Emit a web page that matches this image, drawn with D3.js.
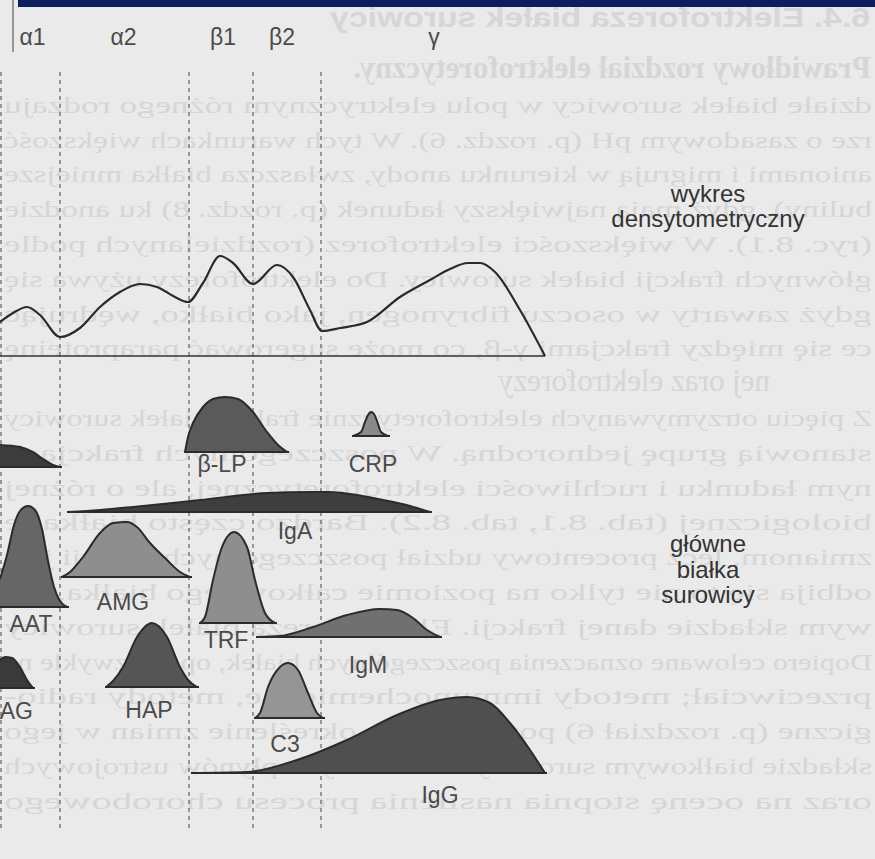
<!DOCTYPE html>
<html><head><meta charset="utf-8">
<script src="https://cdn.jsdelivr.net/npm/d3@7"></script>
<style>html,body{margin:0;padding:0;background:#ececec;overflow:hidden}</style>
</head><body><svg id="c" width="875" height="859"></svg>
<script>
// ---------- DATA ----------
const fractions = ["α1", "α2", "β1", "β2", "γ"];
const fractionLabelMobility = [6.5, 24.7, 44.6, 56.4, 86.8];
const fractionBounds = [0.2, 12, 37.8, 50.6, 64.2];

// densitometric curve: mobility vs intensity
const densMobility  = [0, 2.6, 5.4, 8, 12, 16, 20, 24, 28, 31.4, 35, 37.6, 40.6, 44, 46.6, 50.6, 55.4, 58.6, 62, 64.4, 68, 73.4, 80, 86, 90, 93.6, 96, 99, 104, 109];
const densIntensity = [34, 43, 49, 41, 19, 28, 49, 64, 72, 69, 59, 54, 73, 100, 93, 72, 91, 79, 46, 25, 28, 34, 59, 76, 87, 93, 93, 84, 46, 0];

// main serum proteins: [mobility, relative amount]
const proteins = ["α-LP", "β-LP", "CRP", "IgA", "AAT", "AMG", "TRF", "IgM", "HAP", "AG", "C3", "IgG"];
const profALP = [[0,22],[4,20],[6.6,15],[8.6,8],[10.6,2],[12,0]];
const profBLP = [[37,0],[37.6,15],[38.6,29],[40.6,45],[42.6,53],[45,55],[47.6,53],[50.6,40],[53.4,20],[55.6,7],[57.4,0]];
const profCRP = [[70.6,0],[72.2,4],[73,14],[73.6,21],[74.2,24],[74.8,22],[75.4,15],[76.2,4],[77.6,0]];
const profIgA = [[13.6,0],[20,2],[26.6,5],[40,12],[53.4,19],[62,20],[66,20],[70,18],[76.6,12],[82,6],[86,0]];
const profAAT = [[0,28],[1.4,52],[2.8,82],[4,96],[5.6,101],[7,97],[8.4,78],[9.6,46],[10.8,20],[12,6],[13.4,0]];
const profAMG = [[12.4,0],[14,5],[16.6,20],[20,44],[22.6,54],[25.4,55],[27.4,50],[30,34],[33.4,17],[36,5],[38,0]];
const profTRF = [[40,0],[41,6],[42.6,43],[44.4,76],[46.8,91],[49.4,76],[51,43],[53,10],[55,0]];
const profIgM = [[51.4,0],[56,1],[62.6,10],[69.4,22],[76,28],[79.4,27],[82.6,19],[85.4,7],[88,0]];
const profHAP = [[21.2,0],[22.6,6],[24.6,20],[27.4,50],[30.4,64],[33.4,50],[36,20],[37.8,6],[39.4,0]];
const profAG  = [[0,28],[1,31],[2.4,30],[4,21],[5.4,8],[6.6,0]];
const profC3  = [[51,0],[52,5],[53.6,31],[56,51],[57.6,55],[59.6,48],[61.6,25],[63.4,5],[64.6,0]];
const profIgG = [[38.4,0],[49.4,1],[59.4,13],[69.4,33],[79.4,58],[88,73],[93.4,76],[98,70],[102,50],[106,23],[109,0]];
const profiles = [profALP, profBLP, profCRP, profIgA, profAAT, profAMG, profTRF, profIgM, profHAP, profAG, profC3, profIgG];

const captionDens = ["wykres", "densytometryczny"];
const captionProteins = ["główne", "białka", "surowicy"];

// faint show-through text of the reverse page (mirrored in the scan)
const pageTitle = "6.4. Elektroforeza białek surowicy";
const pageLines = [
  "Prawidłowy rozdział elektroforetyczny.",
  "działe białek surowicy w polu elektrycznym różnego rodzaju",
  "rze o zasadowym pH (p. rozdz. 6). W tych warunkach większość",
  "anionami i migrują w kierunku anody, zwłaszcza białka mniejsze",
  "buliny), gdyż mają największy ładunek (p. rozdz. 8) ku anodzie",
  "(ryc. 8.1). W większości elektroforez (rozdzielanych podle",
  "głównych frakcji białek surowicy. Do elektroforezy używa się",
  "gdyż zawarty w osoczu fibrynogen, jako białko, wędrując",
  "ce się między frakcjami γ-β, co może sugerować paraproteinę",
  "nej oraz elektroforezy",
  "Z pięciu otrzymywanych elektroforetycznie frakcji białek surowicy",
  "stanowią grupę jednorodną. W poszczególnych frakcjach",
  "nym ładunku i ruchliwości elektroforetycznej, ale o różnej",
  "biologicznej (tab. 8.1, tab. 8.2). Bardzo często białka te",
  "zmianom, lecz procentowy udział poszczególnych frakcji jest",
  "odbija się to nie tylko na poziomie całkowitego białka, ale",
  "wym składzie danej frakcji. Elektroforeza białek surowicy",
  "Dopiero celowane oznaczenia poszczególnych białek, oparte zwykle na",
  "przeciwciał; metody immunochemiczne, metody radio-",
  "giczne (p. rozdział 6) pozwalają na określenie zmian w jego",
  "składzie białkowym surowicy krwi i innych płynów ustrojowych",
  "oraz na ocenę stopnia nasilenia procesu chorobowego"
];

// ---------- LAYOUT / STYLE ----------
const layout = {
  "α-LP": {base: 467, fill: "#3c3c3c", label: null},
  "β-LP": {base: 452, fill: "#5a5a5a", label: [44.4, 472]},
  "CRP":  {base: 436, fill: "#8a8a8a", label: [74.6, 472]},
  "IgA":  {base: 512, fill: "#3e3e3e", label: [59, 539]},
  "AAT":  {base: 607, fill: "#666666", label: [6.2, 632]},
  "AMG":  {base: 577, fill: "#8e8e8e", label: [24.6, 610]},
  "TRF":  {base: 623, fill: "#8e8e8e", label: [45.2, 648]},
  "IgM":  {base: 637, fill: "#707070", label: [73.6, 673]},
  "HAP":  {base: 687, fill: "#555555", label: [29.8, 718]},
  "AG":   {base: 688, fill: "#3a3a3a", label: [6.6, 719], anchor: "end"},
  "C3":   {base: 718, fill: "#959595", label: [57, 752]},
  "IgG":  {base: 773, fill: "#4f4f4f", label: [88, 803]}
};
const font = "'Liberation Sans', Arial, sans-serif";

const svg = d3.select("#c");
const x = d3.scaleLinear().domain([0, 109]).range([0, 545]);
const yD = d3.scaleLinear().domain([0, 100]).range([356, 256]);
const hS = d3.scaleLinear().domain([0, 100]).range([0, 100]);

svg.append("rect").attr("width", 875).attr("height", 859).attr("fill", "#eaeaea");

// show-through page text (mirrored, very faint), kept inside the page
const bleed = svg.append("g").attr("transform", "translate(875,0) scale(-1,1)")
  .attr("fill", "#d6d6d6");
bleed.append("text").attr("x", 5).attr("y", 27).attr("font-family", font)
  .attr("font-weight", "bold").attr("font-size", 27).attr("textLength", 540)
  .attr("lengthAdjust", "spacingAndGlyphs").text(pageTitle);
const lineStart = i => i === 0 ? 4 : (i === 9 ? 105 : 3);
const lineLen = i => (i === 0 || i === 9) ? null : 868;
bleed.selectAll("text.pl").data(pageLines).join("text").attr("class", "pl")
  .attr("x", (d, i) => lineStart(i)).attr("y", (d, i) => 78 + i * 34.8)
  .attr("font-family", "'Liberation Serif', 'DejaVu Serif', serif")
  .attr("font-weight", (d, i) => i === 0 ? "bold" : "normal")
  .attr("font-size", (d, i) => (i === 0 || i === 9) ? 31 : 24)
  .attr("textLength", (d, i) => lineLen(i))
  .attr("lengthAdjust", (d, i) => lineLen(i) ? "spacingAndGlyphs" : null)
  .text(d => d);

// header band and frame line
svg.append("rect").attr("x", 18).attr("y", 0).attr("width", 857).attr("height", 7).attr("fill", "#0b1f5f");
svg.append("line").attr("x1", 13).attr("x2", 13).attr("y1", 0).attr("y2", 52)
  .attr("stroke", "#7a7a7a").attr("stroke-width", 1.5);

// fraction labels
svg.selectAll("text.frac").data(fractions).join("text").attr("class", "frac")
  .attr("x", (d, i) => x(fractionLabelMobility[i])).attr("y", 45)
  .attr("text-anchor", "middle").attr("font-family", font).attr("font-size", 23)
  .attr("fill", "#4a4a4a").text(d => d);

// dashed boundaries
svg.selectAll("line.bound").data(fractionBounds).join("line").attr("class", "bound")
  .attr("x1", d => x(d)).attr("x2", d => x(d)).attr("y1", 72).attr("y2", 830)
  .attr("stroke", "#6a6a6a").attr("stroke-width", 1.3).attr("stroke-dasharray", "4,4");

// densitometric curve
const dens = densMobility.map((m, i) => [m, densIntensity[i]]);
svg.append("line").attr("x1", x(0)).attr("x2", x(109)).attr("y1", yD(0)).attr("y2", yD(0))
  .attr("stroke", "#333").attr("stroke-width", 1.6);
svg.append("path").datum(dens)
  .attr("d", d3.line().x(d => x(d[0])).y(d => yD(d[1])).curve(d3.curveMonotoneX))
  .attr("fill", "none").attr("stroke", "#2a2a2a").attr("stroke-width", 2.2);

// protein peaks
proteins.forEach((name, i) => {
  const L = layout[name], prof = profiles[i], b = L.base;
  const g = svg.append("g");
  g.append("path").datum(prof)
    .attr("d", d3.area().x(d => x(d[0])).y0(b).y1(d => b - hS(d[1])).curve(d3.curveMonotoneX))
    .attr("fill", L.fill);
  g.append("path").datum(prof)
    .attr("d", d3.line().x(d => x(d[0])).y(d => b - hS(d[1])).curve(d3.curveMonotoneX))
    .attr("fill", "none").attr("stroke", "#2b2b2b").attr("stroke-width", 2);
  g.append("line").attr("x1", x(prof[0][0]) - 1).attr("x2", x(prof[prof.length - 1][0]) + 2)
    .attr("y1", b).attr("y2", b).attr("stroke", "#2b2b2b").attr("stroke-width", 2);
  if (L.label) {
    g.append("text").attr("x", x(L.label[0])).attr("y", L.label[1])
      .attr("text-anchor", L.anchor || "middle").attr("font-family", font).attr("font-size", 23)
      .attr("fill", "#4a4a4a").text(name);
  }
});

// captions
svg.selectAll("text.cd").data(captionDens).join("text").attr("class", "cd")
  .attr("x", 708).attr("y", (d, i) => 202 + i * 25).attr("text-anchor", "middle")
  .attr("font-family", font).attr("font-size", 24).attr("fill", "#333").text(d => d);
svg.selectAll("text.cp").data(captionProteins).join("text").attr("class", "cp")
  .attr("x", 708).attr("y", (d, i) => 552 + i * 25.5).attr("text-anchor", "middle")
  .attr("font-family", font).attr("font-size", 24).attr("fill", "#333").text(d => d);
</script></body></html>
